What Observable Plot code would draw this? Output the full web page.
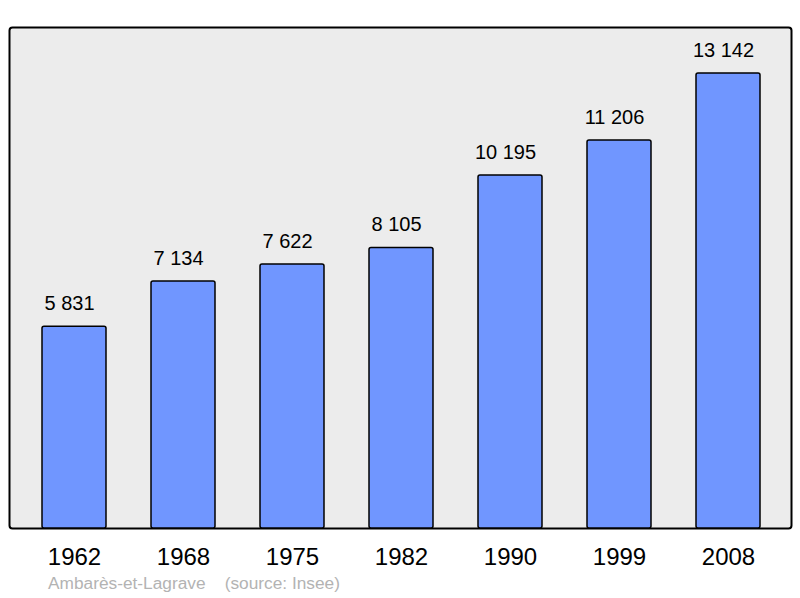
<!DOCTYPE html>
<html>
<head>
<meta charset="utf-8">
<script src="https://cdn.jsdelivr.net/npm/d3@7"></script>
<script src="https://cdn.jsdelivr.net/npm/@observablehq/plot@0.6"></script>
<style>
  html, body { margin: 0; padding: 0; background: #fff; }
  #wrap { position: relative; width: 800px; height: 598px; font-family: "Liberation Sans", Arial, sans-serif; }
  #caption { position: absolute; left: 48px; top: 573px; font-size: 17.3px; color: #b3b3b3; white-space: pre; font-family: "Liberation Sans", Arial, sans-serif; }
</style>
</head>
<body>
<div id="wrap"><div id="chart"></div><div id="caption">Ambarès-et-Lagrave    (source: Insee)</div></div>
<script>
const years = ["1962", "1968", "1975", "1982", "1990", "1999", "2008"];
const population = [5831, 7134, 7622, 8105, 10195, 11206, 13142];

const data = years.map((y, i) => ({year: y, pop: population[i]}));
const fmt = v => d3.format(",")(v).replace(/,/g, " ");

const chart = Plot.plot({
  width: 800,
  height: 598,
  marginLeft: 9,
  marginRight: 9,
  marginTop: 27,
  marginBottom: 70,
  style: {fontFamily: "'Liberation Sans', Arial, sans-serif", background: "white", color: "black"},
  x: {domain: years, paddingInner: 0.415, paddingOuter: 0.2075, insetLeft: 7.5, insetRight: 6, label: null},
  y: {domain: [0, 14471], axis: null},
  marks: [
    Plot.frame({fill: "#ececec", stroke: "black", strokeWidth: 2, rx: 3}),
    Plot.barY(data, {x: "year", y: "pop", fill: "#7096ff", stroke: "black", strokeWidth: 1.5, rx: 2}),
    Plot.text(data, {x: "year", y: "pop", text: d => fmt(d.pop), lineAnchor: "bottom", dx: -5, dy: -17, fontSize: 20, fill: "black"}),
    Plot.axisX({tickSize: 0, tickPadding: 19, fontSize: 24, label: null})
  ]
});
document.getElementById("chart").appendChild(chart);
</script>
</body>
</html>
